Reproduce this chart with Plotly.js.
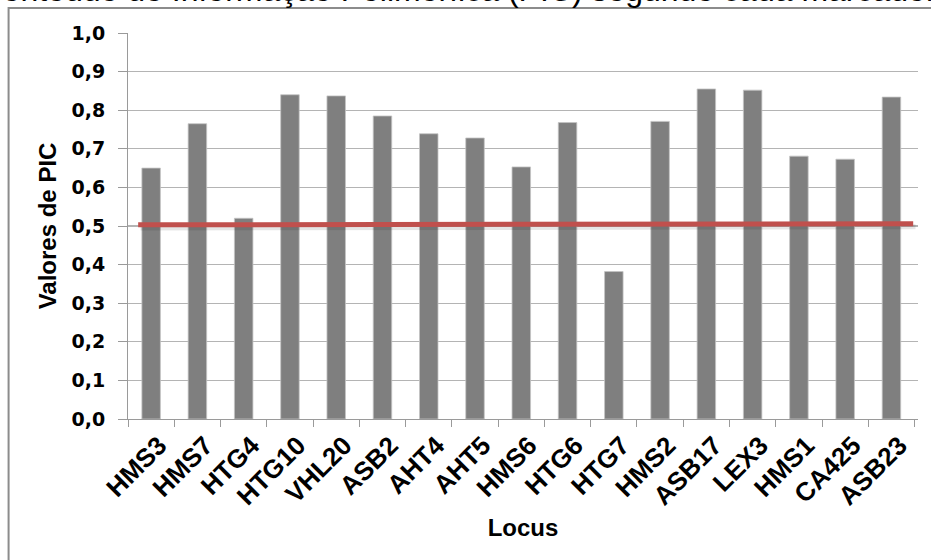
<!DOCTYPE html>
<html>
<head>
<meta charset="utf-8">
<script src="https://cdn.plot.ly/plotly-3.0.1.min.js"></script>
<style>
  html, body { margin: 0; padding: 0; background: #ffffff; }
  #chart { width: 931px; height: 560px; }
</style>
</head>
<body>
<div id="chart"></div>
<script>
// Marcadores microssatélites (locos) e respectivos valores de PIC
const locos = ["HMS3", "HMS7", "HTG4", "HTG10", "VHL20", "ASB2", "AHT4", "AHT5", "HMS6",
               "HTG6", "HTG7", "HMS2", "ASB17", "LEX3", "HMS1", "CA425", "ASB23"];
const valoresPIC = [0.650, 0.765, 0.520, 0.840, 0.837, 0.785, 0.739, 0.728, 0.653,
                    0.768, 0.382, 0.771, 0.855, 0.852, 0.681, 0.673, 0.834];

// Linha de referência (PIC = 0,5): valor no início e no fim da linha
const linhaReferencia = [0.503, 0.506];

const yTicks = [0, 0.1, 0.2, 0.3, 0.4, 0.5, 0.6, 0.7, 0.8, 0.9, 1.0];

const SANS = "Liberation Sans, Arial, Helvetica, sans-serif";
const WIDE = "DejaVu Sans, Verdana, sans-serif";
const GRID = "#b4b4b4";
const AXIS = "#9a9a9a";

const barras = {
  type: "bar",
  x: locos,
  y: valoresPIC,
  marker: { color: "#7f7f7f", line: { color: "#c4c4c4", width: 0.8 } },
  hoverinfo: "x+y",
  showlegend: false
};

// extremos da linha de referência em índices de categoria
const xIni = -0.28, xFim = locos.length - 0.53;

const layout = {
  width: 931,
  height: 560,
  margin: { l: 127.5, r: 13, t: 33, b: 141, pad: 0 },
  paper_bgcolor: "#ffffff",
  plot_bgcolor: "#ffffff",
  separators: ",.",
  bargap: 0.6,
  font: { family: SANS, color: "#000000" },
  title: {
    text: "Conteúdo de Informação Polimórfica (PIC) segundo cada marcador",
    font: { family: SANS, size: 32, color: "#000000" },
    xref: "container", x: 0.492, xanchor: "center",
    yref: "container", y: 0.998, yanchor: "bottom"
  },
  xaxis: {
    type: "category",
    tickson: "boundaries",
    ticks: "outside",
    ticklen: 7,
    tickcolor: AXIS,
    tickwidth: 1,
    showline: true,
    linecolor: AXIS,
    linewidth: 1,
    showgrid: false,
    tickangle: -45,
    ticklabelshift: 8,
    tickfont: { family: SANS, size: 26, weight: "bold", color: "#000000" },
    title: {
      text: "Locus",
      font: { family: SANS, size: 24, weight: "bold", color: "#000000" },
      standoff: 9
    },
    automargin: false
  },
  yaxis: {
    range: [0, 1.0],
    tickvals: yTicks,
    tickformat: ".1f",
    ticks: "outside",
    ticklen: 9,
    tickcolor: AXIS,
    tickwidth: 1,
    ticklabelstandoff: 9,
    showline: true,
    linecolor: AXIS,
    linewidth: 1,
    showgrid: true,
    gridcolor: GRID,
    gridwidth: 1.3,
    zeroline: false,
    tickfont: { family: WIDE, size: 19, weight: "bold", color: "#000000" },
    title: {
      text: "Valores de PIC",
      font: { family: SANS, size: 24, weight: "bold", color: "#000000" },
      standoff: 8
    },
    automargin: false
  },
  shapes: [
    // moldura da área do gráfico
    {
      type: "rect", xref: "paper", yref: "paper", layer: "below",
      x0: (8 - 127.5) / 790.5, x1: 1.2, y0: -1, y1: (419 - 8) / 386,
      line: { color: "#8c8c8c", width: 2 }, fillcolor: "rgba(0,0,0,0)"
    },
    // sombra da linha de referência
    {
      type: "line", xref: "x", yref: "y", layer: "above",
      x0: xIni + 0.05, x1: xFim + 0.05,
      y0: linhaReferencia[0] - 0.008, y1: linhaReferencia[1] - 0.008,
      line: { color: "rgba(0,0,0,0.10)", width: 5 }
    },
    // linha de referência
    {
      type: "line", xref: "x", yref: "y", layer: "above",
      x0: xIni, x1: xFim, y0: linhaReferencia[0], y1: linhaReferencia[1],
      line: { color: "#c0504d", width: 5 }
    }
  ]
};

Plotly.newPlot("chart", [barras], layout, { staticPlot: true, displayModeBar: false });
</script>
</body>
</html>
